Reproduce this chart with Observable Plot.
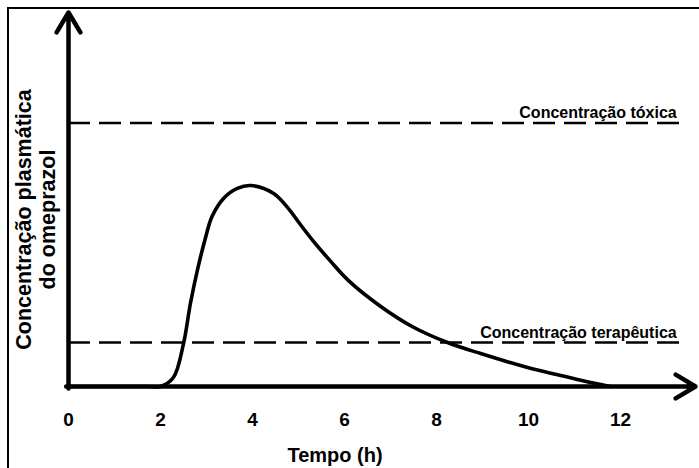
<!DOCTYPE html>
<html><head><meta charset="utf-8">
<script src="https://cdn.jsdelivr.net/npm/d3@7"></script>
<script src="https://cdn.jsdelivr.net/npm/@observablehq/plot@0.6"></script>
<style>
html,body{margin:0;padding:0;background:#fff;}
#wrap{position:relative;width:699px;height:468px;overflow:hidden;background:#fff;}
#frame{position:absolute;left:7px;top:7px;width:800px;height:600px;border-left:2px solid #000;border-top:2.5px solid #000;pointer-events:none;}
</style></head><body><div id="wrap"><div id="frame"></div></div>
<script>
// Data (arbitrary concentration units)
const time = [0, 1.0, 1.7, 2.0, 2.28, 2.5, 2.65, 2.8, 2.98, 3.12, 3.37, 3.67, 3.96, 4.46, 4.76, 5.04, 5.33, 5.7, 6.07, 6.78, 7.5, 8.24, 8.96, 9.98, 10.7, 11.41, 11.78];
const concentration = [0, 0, 0, 0, 3.4, 16.3, 31.5, 44, 56.6, 64.5, 71.4, 75.2, 76.3, 73.3, 68, 61.5, 55, 47.5, 40.5, 30.5, 22.5, 16.7, 12.5, 7.2, 4.2, 1.3, 0];
const xTicks = [0, 2, 4, 6, 8, 10, 12];
const thresholdNames = ["Concentração tóxica", "Concentração terapêutica"];
const thresholdValues = [100, 16.7];
const xLabel = "Tempo (h)";
const yLabel = "Concentração plasmática\ndo omeprazol";

const xMax = 13.63;   // x axis arrow end
const yMax = 142;     // y axis arrow end
const lineEnd = 13.33; // end of dashed threshold lines

const curveData = time.map((t, i) => ({t, c: concentration[i]}));
const thresholds = thresholdNames.map((name, i) => ({name, value: thresholdValues[i]}));

const font = "'Liberation Sans', Arial, Helvetica, sans-serif";

const chart = Plot.plot({
  width: 699,
  height: 468,
  marginLeft: 68,
  marginRight: 4,
  marginTop: 12,
  marginBottom: 82,
  style: {fontFamily: font, background: "transparent", color: "#000", overflow: "visible"},
  x: {domain: [0, xMax]},
  y: {domain: [0, yMax], axis: null},
  marks: [
    Plot.ruleY(thresholds, {y: "value", x1: () => 0, x2: () => lineEnd, stroke: "#000", strokeWidth: 2.5, strokeDasharray: "22,9"}),
    Plot.line(curveData, {x: "t", y: "c", curve: "catmull-rom", stroke: "#000", strokeWidth: 3.6}),
    Plot.arrow([0], {x1: () => -0.05, y1: () => 0, x2: () => xMax, y2: () => 0, stroke: "#000", strokeWidth: 4.5, headLength: 7.7, headAngle: 62}),
    Plot.arrow([0], {x1: () => 0, y1: () => -0.8, x2: () => 0, y2: () => yMax, stroke: "#000", strokeWidth: 4.5, headLength: 7.7, headAngle: 62}),
    Plot.axisX({ticks: xTicks, tickSize: 0, tickPadding: 26, fontSize: 19, fontWeight: "bold", label: null, tickFormat: d => String(d)}),
    Plot.text([xLabel], {text: d => d, frameAnchor: "bottom", dx: -47, dy: 69, fontSize: 20, fontWeight: "bold", lineAnchor: "middle"}),
    Plot.text([yLabel], {text: d => d, frameAnchor: "left", rotate: -90, textAnchor: "middle", dx: -33, dy: 20, fontSize: 21.5, fontWeight: "bold", lineAnchor: "middle", lineHeight: 1.12}),
    Plot.text(thresholds, {x: () => lineEnd, y: "value", text: "name", textAnchor: "end", dx: -5, dy: -10, fontSize: 16, fontWeight: "bold", lineAnchor: "middle"})
  ]
});
document.getElementById("wrap").prepend(chart);
</script>
</body></html>
